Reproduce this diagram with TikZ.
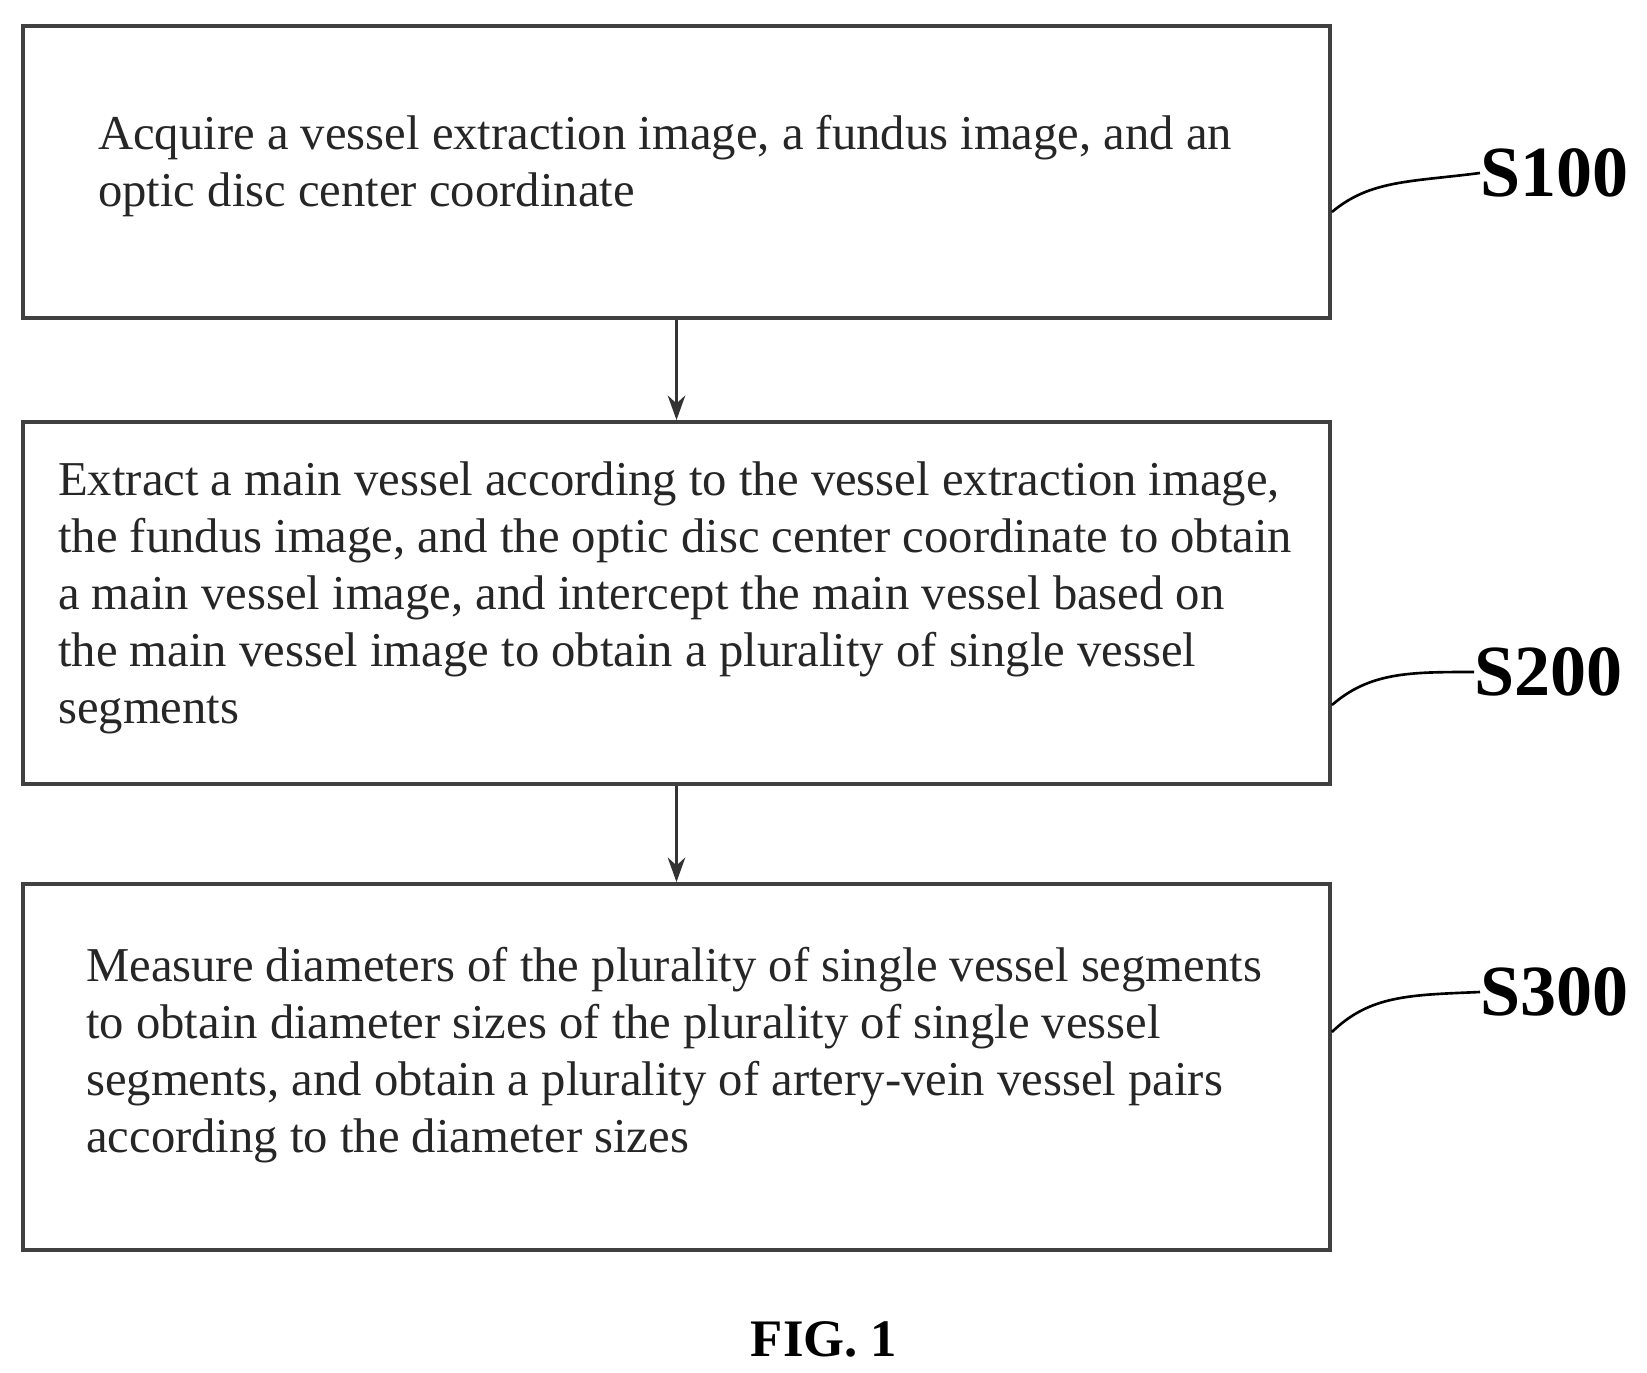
\documentclass[tikz,border=0pt]{standalone}
\usepackage{fontspec}
\setmainfont{Liberation Serif}
\usetikzlibrary{arrows.meta}
\tikzset{
  stepframe/.style={draw=black!75, line width=2.2pt},
  steptext/.style={anchor=west, align=left, font=\fontsize{27.7}{32.5}\selectfont, text=black!85},
  steplabel/.style={anchor=west, font=\fontsize{41}{48}\selectfont\bfseries, inner sep=0pt},
  flow/.style={draw=black!80, line width=1.6pt, -{Stealth[length=14pt,width=10pt]}}
}
\begin{document}
\begin{tikzpicture}[x=0.02cm,y=-0.02cm]
    \useasboundingbox (0,0) rectangle (1647,1373);
    % boxes
    \node[stepframe, minimum width=1307*0.02cm, minimum height=292*0.02cm, inner sep=0pt] (B1) at (676.5,172) {};
    \node[stepframe, minimum width=1307*0.02cm, minimum height=362*0.02cm, inner sep=0pt] (B2) at (676.5,603) {};
    \node[stepframe, minimum width=1307*0.02cm, minimum height=366*0.02cm, inner sep=0pt] (B3) at (676.5,1067) {};
    % texts
    \node[steptext] (T1) at (92,166) {Acquire a vessel extraction image, a fundus image, and an\\optic disc center coordinate};
    \node[steptext] (T2) at (52,598) {Extract a main vessel according to the vessel extraction image,\\the fundus image, and the optic disc center coordinate to obtain\\a main vessel image, and intercept the main vessel based on\\the main vessel image to obtain a plurality of single vessel\\segments};
    \node[steptext] (T3) at (80,1055) {Measure diameters of the plurality of single vessel segments\\to obtain diameter sizes of the plurality of single vessel\\segments, and obtain a plurality of artery-vein vessel pairs\\according to the diameter sizes};
    % arrows
    \draw[flow] (B1.south) -- (B2.north);
    \draw[flow] (B2.south) -- (B3.north);
    % step labels
    \node[steplabel] (S1) at (1480,173) {S100};
    \node[steplabel] (S2) at (1474,672) {S200};
    \node[steplabel] (S3) at (1480,992) {S300};
    \draw[line width=1.5pt] (B1.east |- 0,212) .. controls (1370,180) and (1410,182) .. (S1.west);
    \draw[line width=1.5pt] (B2.east |- 0,705) .. controls (1370,672) and (1410,672) .. (S2.west);
    \draw[line width=1.5pt] (B3.east |- 0,1032) .. controls (1370,995) and (1410,995) .. (S3.west);
    % caption
    \node[font=\fontsize{30}{36}\selectfont\bfseries] (fig) at (824,1339) {FIG. 1};
\end{tikzpicture}
\end{document}
